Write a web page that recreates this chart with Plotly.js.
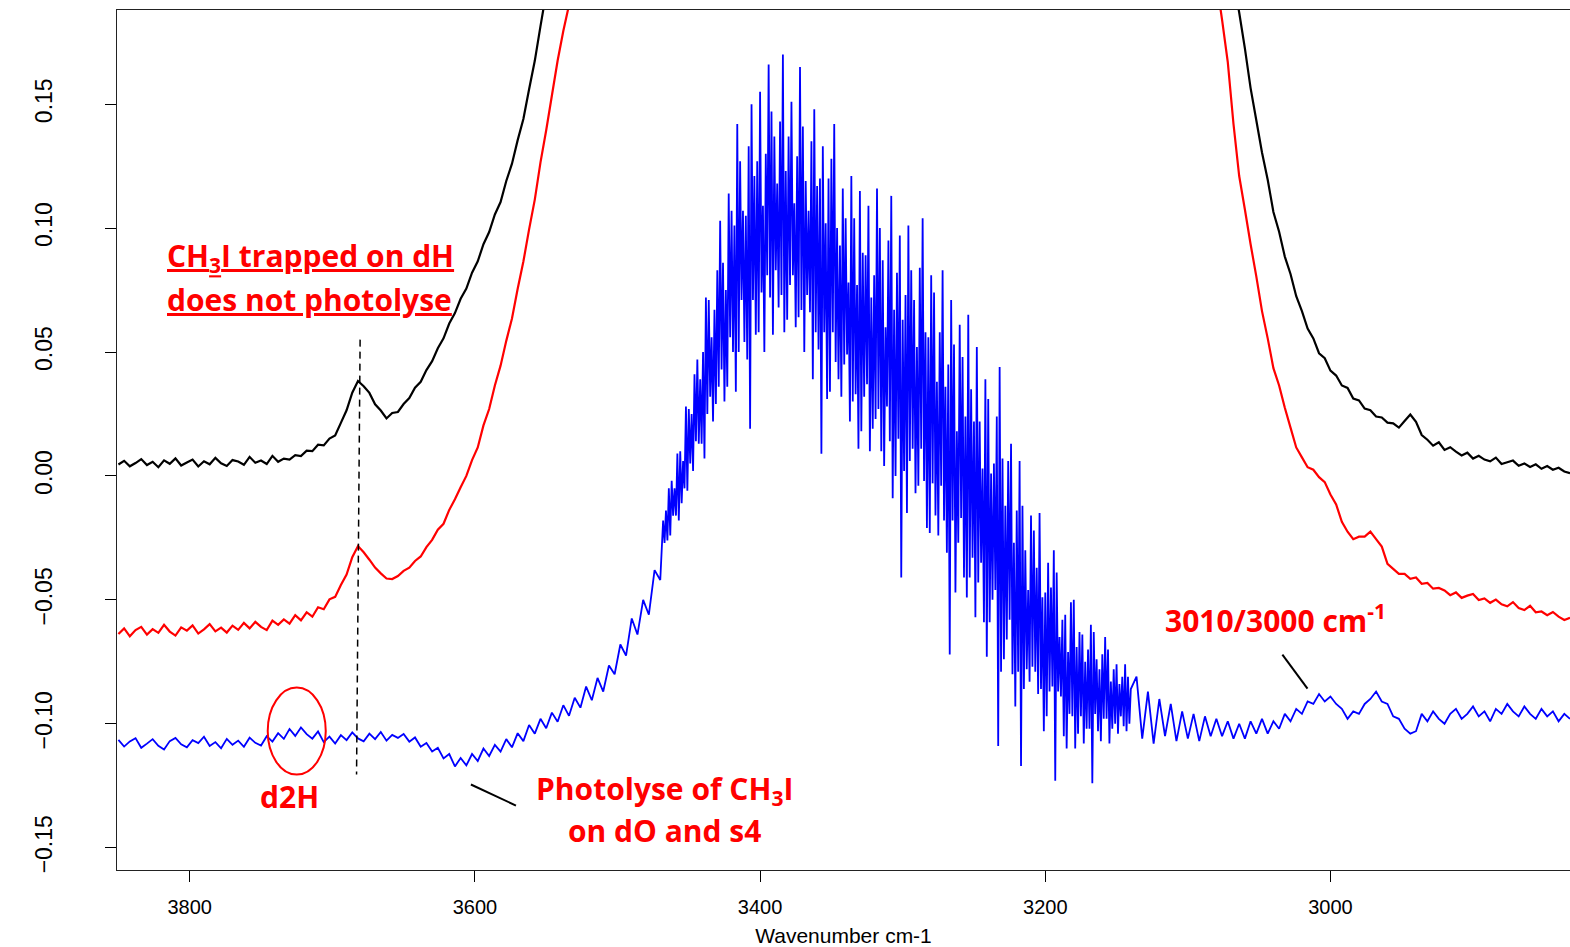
<!DOCTYPE html>
<html>
<head>
<meta charset="utf-8">
<script src="https://cdn.plot.ly/plotly-3.0.1.min.js"></script>
<style>
  html, body { margin: 0; padding: 0; background: #ffffff; }
  #chart { width: 1570px; height: 947px; }
</style>
</head>
<body>
<div id="chart"></div>
<script>
// ---------- data (absorbance vs wavenumber) ----------
// Each segment: first wavenumber, spacing (cm-1), and the values.
const blackLeftStart = 3850, blackLeftStep = 4;
const blackLeft = [
  0.0046,0.0061,0.0039,0.0052,0.0068,0.0044,0.0057,0.0035,0.0063,0.0049,
  0.0071,0.0042,0.0054,0.0066,0.0038,0.0059,0.0047,0.0073,0.0051,0.0040,
  0.0064,0.0058,0.0045,0.0077,0.0053,0.0062,0.0048,0.0081,0.0057,0.0070,
  0.0066,0.0084,0.0080,0.0102,0.0100,0.0126,0.0123,0.0151,0.0163,0.0214,
  0.0265,0.0336,0.0383,0.0362,0.0335,0.0289,0.0264,0.0232,0.0254,0.0258,
  0.0290,0.0314,0.0356,0.0380,0.0427,0.0463,0.0515,0.0555,0.0615,0.0657,
  0.0715,0.0756,0.0820,0.0866,0.0935,0.0984,0.1055,0.1105,0.1190,0.1260,
  0.1355,0.1440,0.1560,0.1675,0.1815,0.1950
];
const blackRightStart = 3068, blackRightStep = 4;
const blackRight = [
  0.2000,0.1870,0.1725,0.1565,0.1435,0.1305,0.1195,0.1065,0.0985,0.0885,
  0.0815,0.0725,0.0665,0.0595,0.0555,0.0495,0.0475,0.0425,0.0405,0.0365,
  0.0355,0.0312,0.0305,0.0272,0.0265,0.0240,0.0236,0.0215,0.0212,0.0195,
  0.0222,0.0248,0.0218,0.0165,0.0146,0.0122,0.0136,0.0105,0.0116,0.0098,
  0.0083,0.0094,0.0070,0.0081,0.0066,0.0059,0.0074,0.0048,0.0055,0.0062,
  0.0041,0.0050,0.0036,0.0047,0.0029,0.0040,0.0025,0.0033,0.0018,0.0011
];
const redLeftStart = 3850, redLeftStep = 4;
const redLeft = [
  -0.0638,-0.0615,-0.0647,-0.0622,-0.0609,-0.0640,-0.0618,-0.0633,-0.0601,-0.0628,
  -0.0644,-0.0611,-0.0624,-0.0603,-0.0636,-0.0619,-0.0598,-0.0627,-0.0612,-0.0632,
  -0.0604,-0.0621,-0.0593,-0.0615,-0.0589,-0.0609,-0.0622,-0.0584,-0.0601,-0.0579,
  -0.0596,-0.0562,-0.0583,-0.0550,-0.0568,-0.0530,-0.0538,-0.0498,-0.0488,-0.0440,
  -0.0398,-0.0328,-0.0283,-0.0308,-0.0338,-0.0370,-0.0393,-0.0414,-0.0416,-0.0404,
  -0.0383,-0.0370,-0.0343,-0.0325,-0.0287,-0.0258,-0.0217,-0.0193,-0.0137,-0.0094,
  -0.0046,0.0000,0.0064,0.0115,0.0204,0.0270,0.0365,0.0445,0.0545,0.0635,
  0.0755,0.0865,0.0995,0.1115,0.1265,0.1395,0.1535,0.1675,0.1795,0.1900,
  0.2000
];
const redRightStart = 3080, redRightStep = 4;
const redRight = [
  0.2000,0.1840,0.1670,0.1420,0.1210,0.1075,0.0935,0.0805,0.0665,0.0555,
  0.0435,0.0365,0.0275,0.0195,0.0115,0.0075,0.0035,0.0025,-0.0005,-0.0025,
  -0.0075,-0.0115,-0.0185,-0.0225,-0.0255,-0.0245,-0.0245,-0.0225,-0.0255,-0.0285,
  -0.0355,-0.0375,-0.0395,-0.0395,-0.0415,-0.0410,-0.0435,-0.0432,-0.0455,-0.0452,
  -0.0462,-0.0481,-0.0470,-0.0492,-0.0483,-0.0476,-0.0501,-0.0494,-0.0512,-0.0499,
  -0.0518,-0.0526,-0.0509,-0.0533,-0.0541,-0.0524,-0.0550,-0.0547,-0.0562,-0.0549,
  -0.0568,-0.0581,-0.0572
];
const blueLeftStart = 3850, blueLeftStep = 4;
const blueLeft = [
  -0.1065,-0.1092,-0.1071,-0.1058,-0.1097,-0.1080,-0.1062,-0.1089,-0.1104,-0.1070,
  -0.1057,-0.1083,-0.1095,-0.1066,-0.1078,-0.1052,-0.1090,-0.1074,-0.1099,-0.1061,
  -0.1085,-0.1068,-0.1093,-0.1056,-0.1077,-0.1088,-0.1050,-0.1072,-0.1038,-0.1061,
  -0.1021,-0.1049,-0.1015,-0.1042,-0.1060,-0.1031,-0.1074,-0.1052,-0.1080,-0.1046,
  -0.1066,-0.1035,-0.1059,-0.1071,-0.1040,-0.1062,-0.1033,-0.1068,-0.1045,-0.1057,
  -0.1041,-0.1072,-0.1055,-0.1093,-0.1078,-0.1112,-0.1097,-0.1140,-0.1122,-0.1172,
  -0.1138,-0.1168,-0.1122,-0.1150,-0.1100,-0.1130,-0.1085,-0.1112,-0.1062,-0.1095,
  -0.1038,-0.1070,-0.1005,-0.1040,-0.0980,-0.1018,-0.0955,-0.0992,-0.0925,-0.0968,
  -0.0895,-0.0935,-0.0850,-0.0905,-0.0815,-0.0870,-0.0765,-0.0800,-0.0680,-0.0725,
  -0.0575,-0.0640,-0.0500,-0.0560,-0.0380,-0.0420
];
// noisy centre of the blue band: upper excursions at even wavenumbers (3468, 3466, ...)
// and lower excursions at odd wavenumbers (3467, 3465, ...)
const blueCenterEvenStart = 3468, blueCenterEvenStep = 2;
const blueCenterEven = [
  -0.018,-0.014,-0.005,-0.002,-0.005,0.009,0.010,0.006,0.028,0.027,
  0.025,0.041,0.047,0.039,0.050,0.072,0.071,0.056,0.067,0.083,
  0.103,0.086,0.075,0.114,0.107,0.101,0.142,0.127,0.107,0.105,
  0.133,0.150,0.121,0.127,0.155,0.109,0.130,0.166,0.147,0.137,
  0.118,0.143,0.170,0.123,0.137,0.151,0.110,0.129,0.165,0.141,
  0.119,0.107,0.135,0.148,0.117,0.120,0.133,0.102,0.120,0.128,
  0.142,0.100,0.093,0.116,0.104,0.078,0.121,0.104,0.077,0.115,
  0.090,0.089,0.109,0.072,0.081,0.116,0.100,0.087,0.060,0.095,
  0.113,0.067,0.082,0.097,0.063,0.073,0.101,0.083,0.071,0.052,
  0.084,0.104,0.058,0.056,0.081,0.074,0.038,0.058,0.083,0.036,
  0.045,0.071,0.053,0.018,0.061,0.048,0.024,0.065,0.035,0.022,
  0.052,0.022,0.003,0.039,0.031,0.001,0.005,0.024,0.044,0.007,
  -0.012,0.006,0.013,-0.027,-0.014,0.006,-0.012,-0.030,-0.046,-0.016,
  -0.022,-0.037,-0.015,-0.049,-0.047,-0.035,-0.045,-0.030,-0.039,-0.065,
  -0.058,-0.056,-0.071,-0.051,-0.050,-0.069,-0.063,-0.064,-0.075,-0.070,
  -0.060,-0.063,-0.074,-0.078,-0.072,-0.065,-0.070,-0.083,-0.078,-0.076,
  -0.084,-0.081,-0.076,-0.081,-0.086
];
const blueCenterOddStart = 3467, blueCenterOddStep = 2;
const blueCenterOdd = [
  -0.027,-0.026,-0.024,-0.016,-0.016,-0.018,-0.011,-0.005,-0.006,0.005,
  0.002,0.014,0.013,0.013,0.007,0.025,0.032,0.022,0.029,0.036,
  0.043,0.030,0.036,0.056,0.050,0.034,0.050,0.071,0.054,0.047,
  0.019,0.071,0.057,0.058,0.074,0.050,0.081,0.072,0.057,0.083,
  0.068,0.073,0.058,0.063,0.077,0.081,0.060,0.064,0.067,0.050,
  0.073,0.066,0.039,0.058,0.051,0.009,0.058,0.031,0.034,0.058,
  0.046,0.039,0.032,0.045,0.049,0.022,0.030,0.033,0.011,0.018,
  0.032,0.037,0.010,0.019,0.023,0.027,0.010,0.004,0.028,0.014,
  -0.009,0.000,0.015,-0.041,0.002,-0.015,0.006,0.011,-0.007,-0.004,
  0.011,-0.002,-0.021,-0.023,-0.003,-0.016,-0.024,-0.004,-0.018,-0.031,
  -0.072,-0.018,-0.047,-0.027,-0.017,-0.041,-0.049,-0.041,-0.033,-0.057,
  -0.043,-0.035,-0.059,-0.073,-0.059,-0.050,-0.046,-0.109,-0.079,-0.074,
  -0.066,-0.058,-0.080,-0.093,-0.079,-0.117,-0.086,-0.078,-0.083,-0.077,
  -0.079,-0.088,-0.086,-0.103,-0.097,-0.087,-0.085,-0.123,-0.087,-0.089,
  -0.105,-0.110,-0.096,-0.097,-0.110,-0.104,-0.097,-0.108,-0.102,-0.102,
  -0.124,-0.096,-0.103,-0.107,-0.098,-0.098,-0.108,-0.102,-0.100,-0.104,
  -0.097,-0.101,-0.103,-0.100
];
const blueRightStart = 3136, blueRightStep = 4;
const blueRight = [
  -0.081,-0.106,-0.087,-0.108,-0.090,-0.105,-0.092,-0.107,-0.095,-0.106,
  -0.096,-0.107,-0.097,-0.105,-0.098,-0.105,-0.099,-0.106,-0.100,-0.106,
  -0.099,-0.104,-0.098,-0.104,-0.099,-0.102,-0.096,-0.099,-0.094,-0.096,
  -0.091,-0.092,-0.088,-0.091,-0.089,-0.092,-0.094,-0.098,-0.095,-0.096,
  -0.092,-0.090,-0.087,-0.091,-0.092,-0.097,-0.098,-0.102,-0.104,-0.103,
  -0.096,-0.099,-0.095,-0.098,-0.100,-0.096,-0.094,-0.098,-0.096,-0.093,
  -0.097,-0.095,-0.099,-0.094,-0.096,-0.092,-0.095,-0.097,-0.093,-0.096,
  -0.098,-0.094,-0.097,-0.095,-0.099,-0.096,-0.098
];

// axis ticks
const xTickVals = [3800, 3600, 3400, 3200, 3000];
const yTickVals = [-0.15, -0.10, -0.05, 0.00, 0.05, 0.10, 0.15];
const xTitle = "Wavenumber cm-1";

// ---------- helpers ----------
function segment(start, step, vals) {
  return { x: vals.map((_, i) => start - step * i), y: vals.slice() };
}
function joinSegments(segs) {
  const x = [], y = [];
  segs.forEach((s, k) => {
    if (k > 0) { x.push(null); y.push(null); }
    x.push(...s.x); y.push(...s.y);
  });
  return { x, y };
}
function joinSorted(segs) {
  const pts = [];
  segs.forEach(s => s.x.forEach((xv, i) => pts.push([xv, s.y[i]])));
  pts.sort((a, b) => b[0] - a[0]);
  return { x: pts.map(p => p[0]), y: pts.map(p => p[1]) };
}

const black = joinSegments([segment(blackLeftStart, blackLeftStep, blackLeft),
                             segment(blackRightStart, blackRightStep, blackRight)]);
const red = joinSegments([segment(redLeftStart, redLeftStep, redLeft),
                           segment(redRightStart, redRightStep, redRight)]);
const blue = joinSorted([segment(blueLeftStart, blueLeftStep, blueLeft),
                         segment(blueCenterEvenStart, blueCenterEvenStep, blueCenterEven),
                         segment(blueCenterOddStart, blueCenterOddStep, blueCenterOdd),
                         segment(blueRightStart, blueRightStep, blueRight)]);

const traces = [
  { x: black.x, y: black.y, mode: 'lines', line: { color: '#000000', width: 2.2, simplify: false }, connectgaps: false, hoverinfo: 'skip' },
  { x: red.x, y: red.y, mode: 'lines', line: { color: '#ff0000', width: 2.2, simplify: false }, connectgaps: false, hoverinfo: 'skip' },
  { x: blue.x, y: blue.y, mode: 'lines', line: { color: '#0000ff', width: 1.8, simplify: false }, hoverinfo: 'skip' }
];

const redFont = { family: '"Open Sans", Lato, sans-serif', size: 30, color: '#ff0000', weight: 'bold' };
const tickFont = { family: '"Liberation Sans", Arial, sans-serif', size: 20, color: '#000000' };

const layout = {
  width: 1570, height: 947,
  margin: { l: 117, r: 0, t: 10, b: 77, pad: 0 },
  paper_bgcolor: '#ffffff', plot_bgcolor: '#ffffff',
  showlegend: false,
  xaxis: {
    range: [3851, 2832], autorange: false,
    tickvals: xTickVals, ticks: 'outside', ticklen: 11, tickwidth: 1, tickcolor: '#000',
    showline: true, linecolor: '#222', linewidth: 1.2, mirror: true,
    showgrid: false, zeroline: false,
    tickfont: tickFont, ticklabelstandoff: 8,
    title: { text: xTitle, font: { family: '"Liberation Sans", Arial, sans-serif', size: 21, color: '#000' }, standoff: 11 }
  },
  yaxis: {
    range: [-0.159, 0.188], autorange: false,
    tickvals: yTickVals, tickformat: '.2f', tickangle: -90,
    ticks: 'outside', ticklen: 11, tickwidth: 1, tickcolor: '#000',
    showline: true, linecolor: '#222', linewidth: 1.2, mirror: false,
    showgrid: false, zeroline: false,
    tickfont: { family: '"Liberation Sans", Arial, sans-serif', size: 23, color: '#000' },
    ticklabelstandoff: 44
  },
  shapes: [
    // dashed marker line at the dH band
    { type: 'line', xref: 'x', yref: 'y', x0: 3680.5, y0: 0.055, x1: 3683, y1: -0.1205,
      line: { color: '#000', width: 1.5, dash: '7px,5px' } },
    // ellipse round the d2H feature
    { type: 'circle', xref: 'x', yref: 'y', x0: 3745.3, x1: 3704.6, y0: -0.0854, y1: -0.1205,
      line: { color: '#ff0000', width: 2 } },
    // leader lines
    { type: 'line', xref: 'x', yref: 'y', x0: 3602.8, y0: -0.1245, x1: 3571.2, y1: -0.1330,
      line: { color: '#000', width: 2 } },
    { type: 'line', xref: 'x', yref: 'y', x0: 3033.7, y0: -0.0721, x1: 3016.1, y1: -0.0858,
      line: { color: '#000', width: 2 } }
  ],
  annotations: [
    { xref: 'x', yref: 'y', x: 3817.5, y: 0.0882, xanchor: 'left', yanchor: 'middle', showarrow: false,
      text: '<u>CH<sub>3</sub>I trapped on dH</u>', font: redFont },
    { xref: 'x', yref: 'y', x: 3817.5, y: 0.0713, xanchor: 'left', yanchor: 'middle', showarrow: false,
      text: '<u>does not photolyse</u>', font: redFont },
    { xref: 'x', yref: 'y', x: 3729.8, y: -0.1294, xanchor: 'center', yanchor: 'middle', showarrow: false,
      text: 'd2H', font: redFont },
    { xref: 'x', yref: 'y', x: 3466.7, y: -0.1266, xanchor: 'center', yanchor: 'middle', showarrow: false,
      text: 'Photolyse of CH<sub>3</sub>I', font: redFont },
    { xref: 'x', yref: 'y', x: 3466.7, y: -0.1431, xanchor: 'center', yanchor: 'middle', showarrow: false,
      text: 'on dO and s4', font: redFont },
    { xref: 'x', yref: 'y', x: 3117.2, y: -0.0579, xanchor: 'left', yanchor: 'middle', showarrow: false,
      text: '3010/3000 cm<sup>-1</sup>', font: redFont }
  ]
};

Plotly.newPlot('chart', traces, layout, { staticPlot: true, displayModeBar: false });
</script>
</body>
</html>
